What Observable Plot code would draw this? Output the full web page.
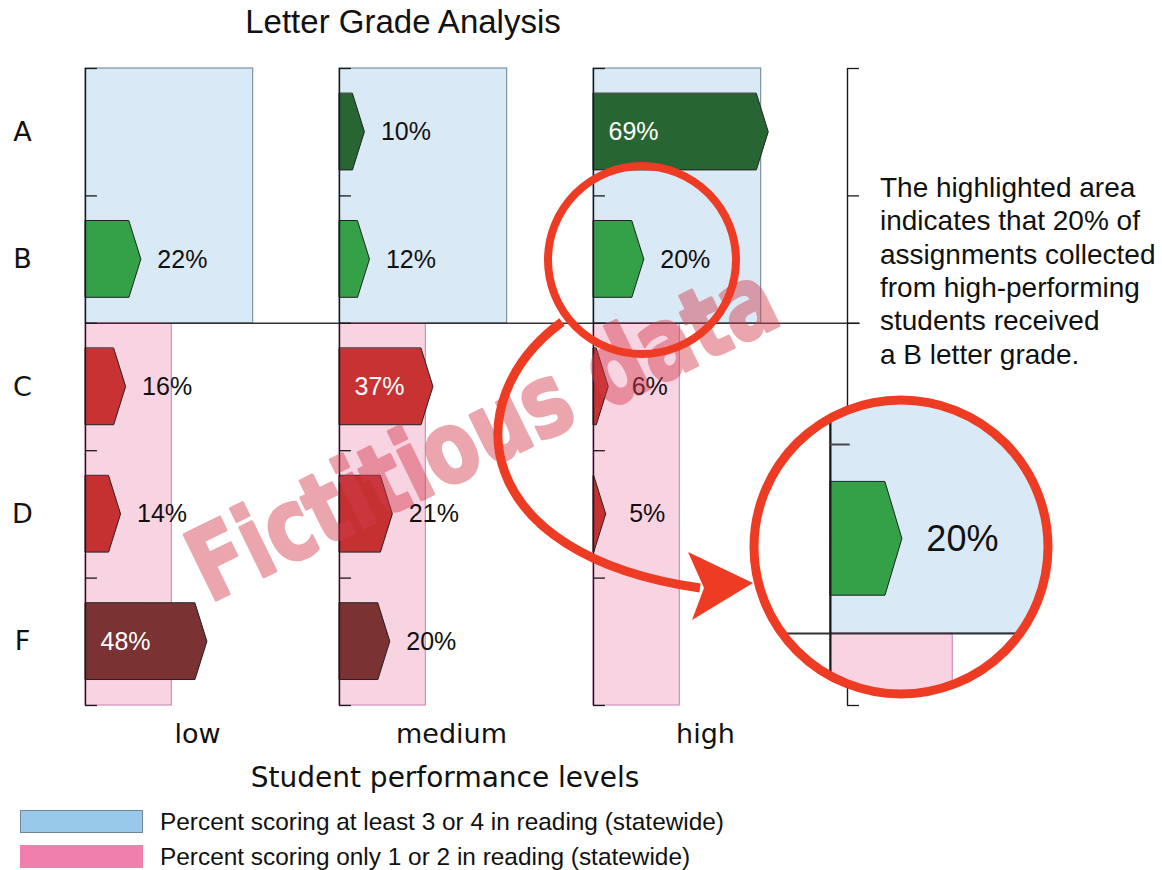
<!DOCTYPE html>
<html>
<head>
<meta charset="utf-8">
<script src="https://cdn.jsdelivr.net/npm/d3@7"></script>
<script src="https://cdn.jsdelivr.net/npm/@observablehq/plot@0.6"></script>
<style>
  html, body { margin: 0; padding: 0; background: #fff; }
  #root { position: relative; width: 1162px; height: 870px; overflow: hidden; }
  #root > * { position: absolute; left: 0; top: 0; }
</style>
</head>
<body>
<div id="root"></div>
<script>
// ---------- data ----------
const levels = ["low", "medium", "high"];
const grades = ["A", "B", "C", "D", "F"];
const lowPct = [0, 22, 16, 14, 48];
const mediumPct = [10, 12, 37, 21, 20];
const highPct = [69, 20, 6, 5, 0];
const proficientPct = [66, 66, 66];      // statewide 3 or 4 in reading
const notProficientPct = [34, 34, 34];   // statewide 1 or 2 in reading
const gradeColors = ["#276632", "#34a048", "#c93232", "#c53131", "#7a3232"];
const legendLabels = [
  "Percent scoring at least 3 or 4 in reading (statewide)",
  "Percent scoring only 1 or 2 in reading (statewide)"
];
const noteLines = [
  "The highlighted area",
  "indicates that 20% of",
  "assignments collected",
  "from high-performing",
  "students received",
  "a B letter grade."
];

// ---------- derived tables ----------
const pctByLevel = [lowPct, mediumPct, highPct];
const bars = levels.flatMap((level, li) =>
  pctByLevel[li].map((value, gi) => ({level, grade: grades[gi], gi, value}))
).filter(d => d.value > 0);

const HEAD = 4.7; // arrow head depth (percentage units)
const arrowPts = bars.flatMap(d => [
  {...d, key: d.level + d.grade, yy: d.gi + 0.2, xx: Math.max(d.value - HEAD, 0)},
  {...d, key: d.level + d.grade, yy: d.gi + 0.5, xx: d.value},
  {...d, key: d.level + d.grade, yy: d.gi + 0.8, xx: Math.max(d.value - HEAD, 0)}
]);
const statewide = levels.map((level, i) => ({level, hi: proficientPct[i], lo: notProficientPct[i]}));

const BLUE = "#dae9f6", BLUE_STROKE = "#7b92a6";
const PINK = "#f8d3e2", PINK_STROKE = "#d48fbe";
const AXIS = "#1a1a1a";

function chartMarks(barData, ptData, bgData, sepData, opts = {}) {
  const fs = opts.fontSize || 25;
  const dxOut = opts.dxOut || 41;
  const fx = opts.facet ? "level" : undefined;
  return [
    Plot.rect(bgData, {fx, x1: d => 0, x2: "hi", y1: d => 0, y2: d => 2,
      fill: BLUE, stroke: BLUE_STROKE, strokeWidth: 1.2}),
    Plot.rect(bgData, {fx, x1: d => 0, x2: "lo", y1: d => 2, y2: d => 5,
      fill: PINK, stroke: PINK_STROKE, strokeWidth: 1.2}),
    Plot.ruleY(sepData, {fx, y: d => 2, x1: "x1", x2: "x2",
      stroke: "#333", strokeWidth: opts.sepWidth || 1.5}),
    Plot.areaX(ptData, {fx, x1: d => 0, x2: "xx", y: "yy", z: "key",
      fill: "grade", stroke: "#222", strokeWidth: 1, curve: "linear"}),
    Plot.text(barData.filter(d => d.value < 30), {fx, x: "value", y: d => d.gi + 0.5,
      text: d => d.value + "%", dx: dxOut, fontSize: fs, fill: "#111", fontFamily: "Liberation Sans, Arial, sans-serif"}),
    Plot.text(barData.filter(d => d.value >= 30), {fx, x: d => 0, y: d => d.gi + 0.5,
      text: d => d.value + "%", dx: 40, fontSize: fs, fill: "#fff", fontFamily: "Liberation Sans, Arial, sans-serif"})
  ];
}

// ---------- main faceted chart ----------
const sepMain = [...levels.map(level => ({level, x1: 0, x2: 100})), {level: "note", x1: 0, x2: 5}];

const main = Plot.plot({
  width: 1162,
  height: 870,
  marginTop: 68,
  marginBottom: 165,
  marginLeft: 83,
  marginRight: 60,
  style: {fontFamily: "DejaVu Sans, sans-serif", fontSize: "27px", color: "#111", background: "transparent", overflow: "visible"},
  fx: {domain: [...levels, "note"], padding: 0, label: null},
  x: {domain: [0, 100], axis: null, label: null},
  y: {domain: [0, 5], reverse: true, axis: null, label: null},
  color: {domain: grades, range: gradeColors},
  marks: [
    ...chartMarks(bars, arrowPts, statewide, sepMain, {facet: true}),
    Plot.ruleX([0], {y1: 0, y2: 5, stroke: AXIS, strokeWidth: 1.4}),
    Plot.ruleY([0, 1, 2, 3, 4, 5], {x1: 0, x2: 4.7, stroke: AXIS, strokeWidth: 1.3}),
    Plot.axisY({ticks: grades.map((g, i) => i + 0.5), tickFormat: v => grades[Math.floor(v)], label: null,
      tickSize: 0, tickPadding: 63, textAnchor: "middle", fontSize: 27, fill: "#111"}),
    Plot.axisFx({anchor: "bottom", tickSize: 0, tickPadding: 18, fontSize: 27, dx: -15,
      tickFormat: d => d === "note" ? "" : d, label: null, fill: "#111"})
  ]
});
document.getElementById("root").appendChild(main);

// ---------- magnified inset (high, B) ----------
const insetBars = bars.filter(d => d.level === "high" && d.grade === "B");
const insetPts = arrowPts.filter(d => d.level === "high" && d.grade === "B");
const inset = Plot.plot({
  width: 302, height: 302, margin: 0,
  style: {background: "#fff", overflow: "hidden"},
  x: {domain: [-22.2, 61.7], axis: null, label: null},
  y: {domain: [0.746, 2.344], reverse: true, axis: null, label: null},
  color: {domain: grades, range: gradeColors},
  marks: [
    ...chartMarks(insetBars, insetPts, statewide.filter(d => d.level === "high"), [{x1: -100, x2: 100}], {fontSize: 36, dxOut: 60, sepWidth: 2}),
    Plot.ruleX([0], {y1: 0, y2: 5, stroke: AXIS, strokeWidth: 2.2}),
    Plot.ruleY([1], {x1: 0, x2: 5.5, stroke: "#444", strokeWidth: 1.8})
  ]
});
const insetWrap = document.createElement("div");
insetWrap.style.cssText = "left:750px;top:396px;width:302px;height:302px;clip-path:circle(147px at 151px 151px);background:#fff;";
insetWrap.appendChild(inset);
document.getElementById("root").appendChild(insetWrap);

// ---------- overlay: watermark, highlight circles, arrow, texts, legend ----------
const RED = "#ee3b24";
const ov = d3.select("#root").append("svg")
  .attr("width", 1162).attr("height", 870)
  .style("pointer-events", "none");

ov.append("g").attr("opacity", 0.45)
  .append("text")
  .attr("transform", "translate(482,432) rotate(-26)")
  .attr("text-anchor", "middle").attr("dominant-baseline", "central")
  .attr("font-family", "DejaVu Sans Condensed, DejaVu Sans, sans-serif")
  .attr("font-weight", "bold").attr("font-size", 100)
  .attr("textLength", 640).attr("lengthAdjust", "spacingAndGlyphs")
  .attr("fill", "#d33a4c").attr("stroke", "#d33a4c").attr("stroke-width", 3).attr("stroke-linejoin", "round")
  .text("Fictitious data");

ov.append("circle").attr("cx", 642).attr("cy", 260).attr("r", 94)
  .attr("fill", "none").attr("stroke", RED).attr("stroke-width", 8);
ov.append("circle").attr("cx", 901).attr("cy", 547).attr("r", 147)
  .attr("fill", "none").attr("stroke", RED).attr("stroke-width", 9);
ov.append("path").attr("d", "M562,322 C455,400 470,555 700,588")
  .attr("fill", "none").attr("stroke", RED).attr("stroke-width", 9);
ov.append("path").attr("d", "M688,552 L753,583 L692,620 L704,588 Z").attr("fill", RED);

ov.append("text").attr("x", 403).attr("y", 33).attr("text-anchor", "middle")
  .attr("font-family", "Liberation Sans, Arial, sans-serif").attr("font-size", 33).attr("fill", "#111")
  .text("Letter Grade Analysis");

ov.append("text").attr("x", 445).attr("y", 787).attr("text-anchor", "middle")
  .attr("font-family", "DejaVu Sans, sans-serif").attr("font-size", 28).attr("fill", "#111")
  .text("Student performance levels");

ov.append("g").selectAll("text").data(noteLines).join("text")
  .attr("x", 880).attr("y", (d, i) => 197 + i * 33.3)
  .attr("font-family", "Liberation Sans, Arial, sans-serif").attr("font-size", 28).attr("fill", "#111")
  .text(d => d);

const lg = ov.append("g");
const swatchFill = ["#99c9ea", "#f07fae"];
const swatchStroke = ["#6f8797", "#f07fae"];
legendLabels.forEach((label, i) => {
  lg.append("rect").attr("x", 20.5).attr("y", 810.5 + i * 35).attr("width", 122).attr("height", 22)
    .attr("fill", swatchFill[i]).attr("stroke", swatchStroke[i]).attr("stroke-width", 1);
  lg.append("text").attr("x", 160).attr("y", 830 + i * 35)
    .attr("font-family", "Liberation Sans, Arial, sans-serif").attr("font-size", 24.4).attr("fill", "#111")
    .text(label);
});
</script>
</body>
</html>
